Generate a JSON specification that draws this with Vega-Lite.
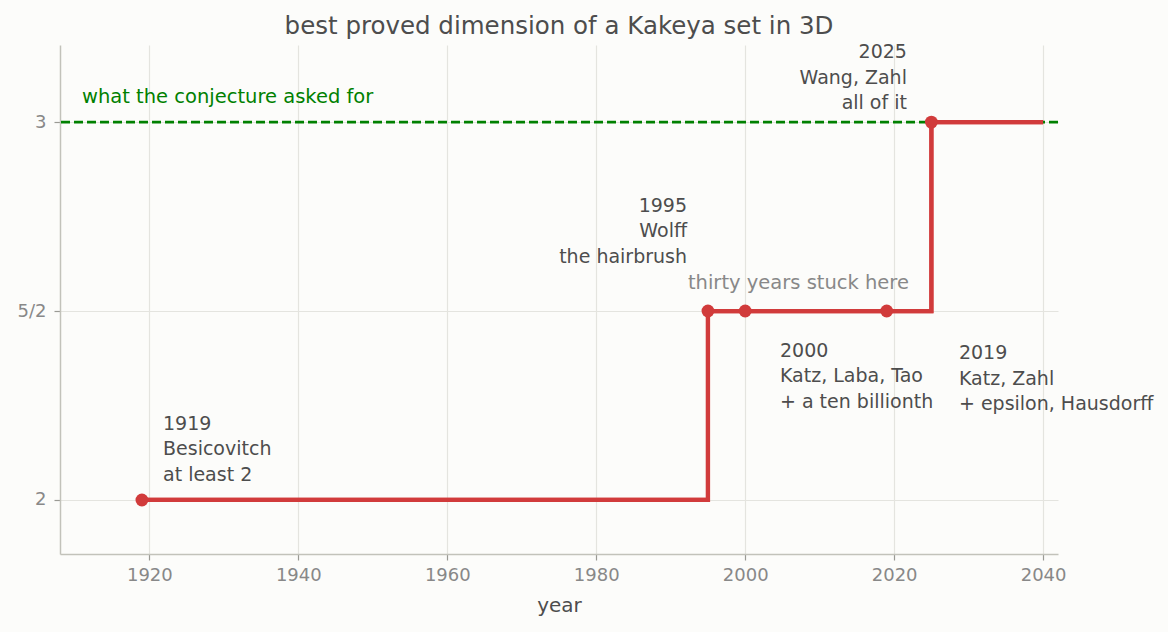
{
  "$schema": "https://vega.github.io/schema/vega-lite/v6.json",
  "width": 998,
  "height": 509,
  "autosize": "none",
  "padding": {"left": 60, "top": 45, "right": 110, "bottom": 78},
  "background": "#fcfcfa",
  "title": {
    "text": "best proved dimension of a Kakeya set in 3D",
    "font": "DejaVu Sans",
    "fontSize": 24.5,
    "fontWeight": "normal",
    "color": "#4d4d4d",
    "baseline": "alphabetic",
    "offset": 12,
    "dy": 27
  },
  "datasets": {
    "goal": [
      {"dim": 3}
    ],
    "steps": [
      {"year": 1919, "dim": 2, "event": true},
      {"year": 1995, "dim": 2.5, "event": true},
      {"year": 2000, "dim": 2.5000000001, "event": true},
      {"year": 2019, "dim": 2.5000000001, "event": true},
      {"year": 2025, "dim": 3, "event": true},
      {"year": 2040, "dim": 3, "event": false}
    ],
    "notes": [
      {"x": 1921.83, "y": 2.1852, "text": "1919|Besicovitch|at least 2", "side": "left"},
      {"x": 1992.19, "y": 2.7627, "text": "1995|Wolff|the hairbrush", "side": "right"},
      {"x": 2004.67, "y": 2.379, "text": "2000|Katz, Laba, Tao|+ a ten billionth", "side": "left"},
      {"x": 2028.7, "y": 2.373, "text": "2019|Katz, Zahl|+ epsilon, Hausdorff", "side": "left"},
      {"x": 2021.72, "y": 3.1685, "text": "2025|Wang, Zahl|all of it", "side": "right"}
    ],
    "extra": [
      {"x": 2007.15, "y": 2.5582, "text": "thirty years stuck here", "kind": "stuck"},
      {"x": 1910.95, "y": 3.0495, "text": "what the conjecture asked for", "kind": "goal"}
    ]
  },
  "layer": [
    {
      "data": {"name": "steps"},
      "mark": {"type": "line", "interpolate": "step-after", "color": "#d13b3b", "strokeWidth": 4.2},
      "encoding": {
        "x": {"field": "year", "type": "quantitative", "scale": {"domain": [1908, 2042], "nice": false, "zero": false},
          "axis": {"values": [1920, 1940, 1960, 1980, 2000, 2020, 2040], "format": "d", "title": "year"}},
        "y": {"field": "dim", "type": "quantitative", "scale": {"domain": [1.857, 3.204], "nice": false, "zero": false},
          "axis": {"values": [2, 2.5, 3], "title": null, "labelExpr": "datum.value == 2.5 ? '5/2' : format(datum.value, 'd')"}}
      }
    },
    {
      "data": {"name": "goal"},
      "mark": {"type": "rule", "color": "#008000", "strokeWidth": 2.8, "strokeDash": [9, 4]},
      "encoding": {"y": {"field": "dim", "type": "quantitative"}}
    },
    {
      "data": {"name": "steps"},
      "mark": {"type": "line", "interpolate": "step-after", "color": "#d13b3b", "strokeWidth": 4.2},
      "encoding": {
        "x": {"field": "year", "type": "quantitative"},
        "y": {"field": "dim", "type": "quantitative"}
      }
    },
    {
      "data": {"name": "steps"},
      "transform": [{"filter": "datum.event"}],
      "mark": {"type": "point", "filled": true, "opacity": 1, "color": "#d13b3b", "size": 165},
      "encoding": {
        "x": {"field": "year", "type": "quantitative"},
        "y": {"field": "dim", "type": "quantitative"}
      }
    },
    {
      "data": {"name": "notes"},
      "transform": [{"filter": "datum.side == 'left'"}],
      "mark": {"type": "text", "align": "left", "baseline": "alphabetic", "lineBreak": "|", "lineHeight": 25.5, "font": "DejaVu Sans", "fontSize": 19, "color": "#4d4d4d"},
      "encoding": {
        "x": {"field": "x", "type": "quantitative"},
        "y": {"field": "y", "type": "quantitative"},
        "text": {"field": "text"}
      }
    },
    {
      "data": {"name": "notes"},
      "transform": [{"filter": "datum.side == 'right'"}],
      "mark": {"type": "text", "align": "right", "baseline": "alphabetic", "lineBreak": "|", "lineHeight": 25.5, "font": "DejaVu Sans", "fontSize": 19, "color": "#4d4d4d"},
      "encoding": {
        "x": {"field": "x", "type": "quantitative"},
        "y": {"field": "y", "type": "quantitative"},
        "text": {"field": "text"}
      }
    },
    {
      "data": {"name": "extra"},
      "transform": [{"filter": "datum.kind == 'stuck'"}],
      "mark": {"type": "text", "align": "center", "baseline": "alphabetic", "font": "DejaVu Sans", "fontSize": 19.5, "color": "#888888"},
      "encoding": {
        "x": {"field": "x", "type": "quantitative"},
        "y": {"field": "y", "type": "quantitative"},
        "text": {"field": "text"}
      }
    },
    {
      "data": {"name": "extra"},
      "transform": [{"filter": "datum.kind == 'goal'"}],
      "mark": {"type": "text", "align": "left", "baseline": "alphabetic", "font": "DejaVu Sans", "fontSize": 19.5, "color": "#008000"},
      "encoding": {
        "x": {"field": "x", "type": "quantitative"},
        "y": {"field": "y", "type": "quantitative"},
        "text": {"field": "text"}
      }
    }
  ],
  "config": {
    "view": {"stroke": null},
    "font": "DejaVu Sans",
    "axis": {
      "labelFont": "DejaVu Sans",
      "labelFontSize": 18,
      "labelColor": "#888888",
      "titleFont": "DejaVu Sans",
      "titleFontSize": 20,
      "titleFontWeight": "normal",
      "titleColor": "#4d4d4d",
      "gridColor": "#e4e4df",
      "gridWidth": 1.2,
      "gridOpacity": 1,
      "domainColor": "#c2c2ba",
      "domainWidth": 1.5,
      "tickColor": "#9a9a94",
      "tickSize": 6,
      "tickWidth": 1.2,
      "labelPadding": 6
    },
    "axisY": {"labelPadding": 8},
    "axisX": {"titlePadding": 11}
  }
}
